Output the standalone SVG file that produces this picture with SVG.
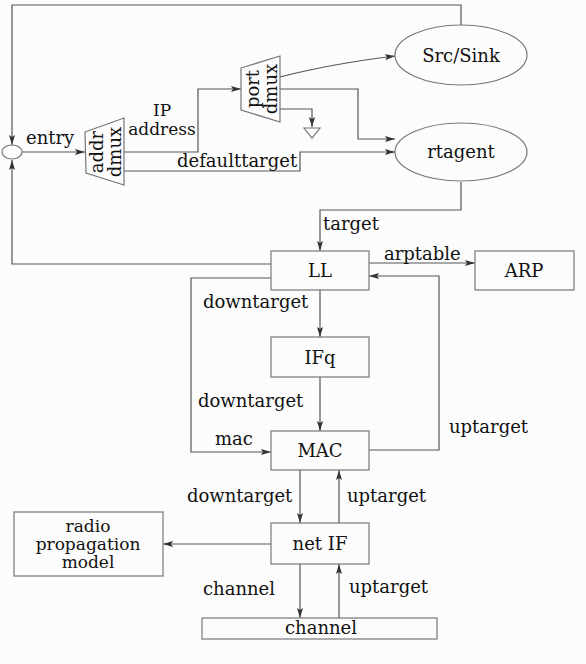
<svg xmlns="http://www.w3.org/2000/svg" width="586" height="664" viewBox="0 0 586 664">
<defs>
<marker id="ah" markerUnits="userSpaceOnUse" markerWidth="10" markerHeight="6" refX="10" refY="3" orient="auto">
<path d="M0,0 L10,3 L0,6 L2,3 z" fill="#333"/>
</marker>
<style>
.n{fill:none;stroke:#777;stroke-width:1.2}
.c{fill:none;stroke:#555;stroke-width:1.2}
.a{marker-end:url(#ah)}
text{font-family:"DejaVu Serif","Liberation Serif",serif;font-size:18px;fill:#111}
.m{text-anchor:middle}
.s{font-size:17px}
</style>
</defs>
<rect width="586" height="664" fill="#fcfcfc"/>
<g id="connectors">
<path class="c a" d="M461,25 V5 H12 V145"/>
<path class="c a" d="M271,264 H12 V160"/>
<path class="c a" d="M22,152 H85"/>
<path class="c a" d="M124,152 H198 V89 H241"/>
<path class="c a" d="M124,171 H300 V152 H395"/>
<path class="c a" d="M280,77 Q330,64 395,56"/>
<path class="c a" d="M280,89 H358 V139 H395"/>
<path class="c a" d="M280,109 H312 V127"/>
<path class="c a" d="M461,182 V210 H320 V251"/>
<path class="c a" d="M369,263 H475"/>
<path class="c a" d="M369,450 H439 V276 H369"/>
<path class="c a" d="M320,290 V337"/>
<path class="c a" d="M320,377 V431"/>
<path class="c a" d="M271,278 H191 V452 H271"/>
<path class="c a" d="M300,470 V523"/>
<path class="c a" d="M339,523 V470"/>
<path class="c a" d="M271,544 H163"/>
<path class="c a" d="M300,564 V618"/>
<path class="c a" d="M339,618 V564"/>
<text x="26" y="144">entry</text>
<text x="162" y="116" class="m s">IP</text>
<text x="162" y="135" class="m s">address</text>
<text x="177" y="167">defaulttarget</text>
<text x="323" y="230">target</text>
<text x="384" y="260">arptable</text>
<text x="203" y="308">downtarget</text>
<text x="198" y="407">downtarget</text>
<text x="449" y="433">uptarget</text>
<text x="215" y="445">mac</text>
<text x="187" y="502">downtarget</text>
<text x="347" y="502">uptarget</text>
<text x="203" y="595">channel</text>
<text x="349" y="593">uptarget</text>
</g>
<g id="entry"><ellipse class="n" cx="12" cy="152" rx="10" ry="7"/></g>
<g id="addr-dmux">
<polygon class="n" points="85,132 124,118 124,185 86,173"/>
<text class="m" transform="translate(103,152) rotate(-90)">addr</text>
<text class="m" transform="translate(121,152) rotate(-90)">dmux</text>
</g>
<g id="port-dmux">
<polygon class="n" points="241,68 280,56 280,122 241,110"/>
<text class="m" transform="translate(259,89) rotate(-90)">port</text>
<text class="m" transform="translate(277,89) rotate(-90)">dmux</text>
</g>
<g id="sink"><polygon class="n" points="304,128 320,128 312,138"/></g>
<g id="src-sink"><ellipse class="n" cx="461" cy="55" rx="66" ry="30"/><text x="461" y="62" class="m">Src/Sink</text></g>
<g id="rtagent"><ellipse class="n" cx="461" cy="152" rx="66" ry="29"/><text x="461" y="158" class="m">rtagent</text></g>
<g id="LL"><rect class="n" x="271" y="251" width="98" height="39"/><text x="320" y="277" class="m">LL</text></g>
<g id="ARP"><rect class="n" x="475" y="251" width="99" height="39"/><text x="524" y="277" class="m">ARP</text></g>
<g id="IFq"><rect class="n" x="271" y="337" width="98" height="40"/><text x="320" y="364" class="m">IFq</text></g>
<g id="MAC"><rect class="n" x="271" y="431" width="98" height="39"/><text x="320" y="457" class="m">MAC</text></g>
<g id="netIF"><rect class="n" x="271" y="523" width="98" height="41"/><text x="320" y="550" class="m">net IF</text></g>
<g id="radio"><rect class="n" x="14" y="512" width="149" height="64"/>
<text x="88" y="532" class="m s">radio</text><text x="88" y="550" class="m s">propagation</text><text x="88" y="568" class="m s">model</text></g>
<g id="channel"><rect class="n" x="202" y="618" width="235" height="21"/><text x="321" y="634" class="m">channel</text></g>
</svg>
